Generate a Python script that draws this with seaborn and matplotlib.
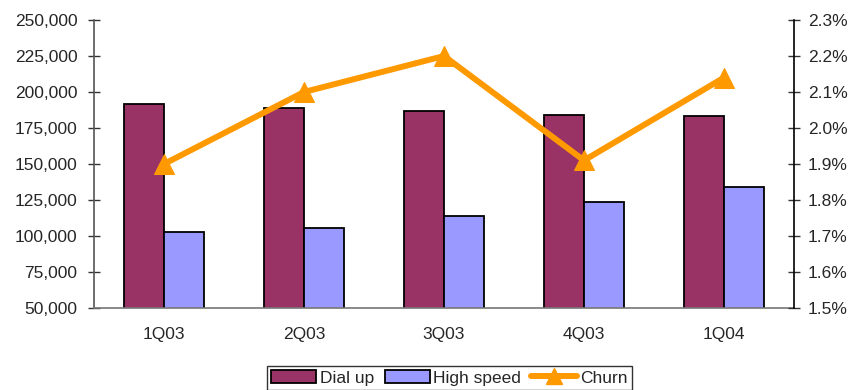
import numpy as np
import pandas as pd
import matplotlib
matplotlib.use("Agg")
import matplotlib.pyplot as plt
from matplotlib.ticker import FuncFormatter, FixedLocator
from matplotlib.patches import Patch
from matplotlib.lines import Line2D
import seaborn as sns

# Subscriber counts and churn by quarter
quarters = ["1Q03", "2Q03", "3Q03", "4Q03", "1Q04"]
dial_up = [192000, 189000, 186800, 184000, 183300]
high_speed = [102800, 105600, 113900, 123600, 134000]
churn = [1.90, 2.10, 2.20, 1.91, 2.14]

series_names = ["Dial up", "High speed"]
bar_colors = ["#993366", "#9999FF"]
line_color = "#FF9900"

sns.set_theme(style="white")
plt.rcParams["font.family"] = ["Liberation Sans", "DejaVu Sans"]
plt.rcParams["font.size"] = 12.5

df = pd.DataFrame({
    "quarter": quarters * 2,
    "subscribers": dial_up + high_speed,
    "service": [series_names[0]] * len(quarters) + [series_names[1]] * len(quarters),
})

fig = plt.figure(figsize=(8.56, 3.90), dpi=100)
ax = fig.add_axes([0.1098, 0.2103, 0.8178, 0.7384])

sns.barplot(data=df, x="quarter", y="subscribers", hue="service",
            order=quarters, hue_order=series_names, palette=bar_colors,
            width=0.572, gap=0, edgecolor="black", linewidth=1.3,
            saturation=1, ax=ax, legend=False)

ax.set_ylim(50000, 250000)
ax.set_xlim(-0.5, len(quarters) - 0.5)
ax.yaxis.set_major_locator(FixedLocator(np.arange(50000, 250001, 25000)))
ax.yaxis.set_major_formatter(FuncFormatter(lambda v, p: f"{int(v):,}"))
ax.set_xlabel("")
ax.set_ylabel("")

for side in ["top", "right"]:
    ax.spines[side].set_visible(False)
ax.spines["left"].set_color("#555555")
ax.spines["bottom"].set_color("#777777")
ax.spines["left"].set_linewidth(1.2)
ax.spines["bottom"].set_linewidth(1.2)

ax.tick_params(axis="y", which="major", direction="inout", length=8,
               width=1, color="#333333", labelsize=12.5, pad=8)
ax.tick_params(axis="x", which="major", length=0, labelsize=12.5, pad=14)
ax.xaxis.set_minor_locator(FixedLocator(np.arange(-0.5, len(quarters), 1.0)))
ax.tick_params(axis="x", which="minor", direction="inout", length=9,
               width=1, color="#333333")

# Churn on the secondary axis
ax2 = ax.twinx()
x_pos = np.arange(len(quarters))
sns.lineplot(x=x_pos, y=churn, ax=ax2, color=line_color, linewidth=4.3,
             marker="^", markersize=15, markeredgecolor=line_color,
             sort=False, legend=False)
ax2.set_ylim(1.5, 2.3)
ax2.yaxis.set_major_locator(FixedLocator(np.arange(1.5, 2.3001, 0.1)))
ax2.yaxis.set_major_formatter(FuncFormatter(lambda v, p: f"{v:.1f}%"))
for side in ["top", "left", "bottom"]:
    ax2.spines[side].set_visible(False)
ax2.spines["right"].set_color("black")
ax2.spines["right"].set_linewidth(1.2)
ax2.tick_params(axis="y", direction="inout", length=8, width=1,
                color="#333333", labelsize=12.5, pad=6)
ax2.set_xlim(-0.5, len(quarters) - 0.5)

handles = [
    Patch(facecolor=bar_colors[0], edgecolor="black", linewidth=1.3),
    Patch(facecolor=bar_colors[1], edgecolor="black", linewidth=1.3),
    Line2D([0], [0], color=line_color, linewidth=4.3, marker="^",
           markersize=11),
]
leg = fig.legend(handles, ["Dial up", "High speed", "Churn"],
                 loc="upper center", bbox_to_anchor=(0.525, 0.062),
                 ncol=3, frameon=True, fancybox=False, framealpha=1,
                 edgecolor="#333333", fontsize=12.5, handlelength=2.6,
                 handleheight=0.75, handletextpad=0.2, columnspacing=0.6,
                 borderpad=0.25, borderaxespad=0)
leg.get_frame().set_linewidth(1.0)

fig.savefig("out.png", dpi=100)
